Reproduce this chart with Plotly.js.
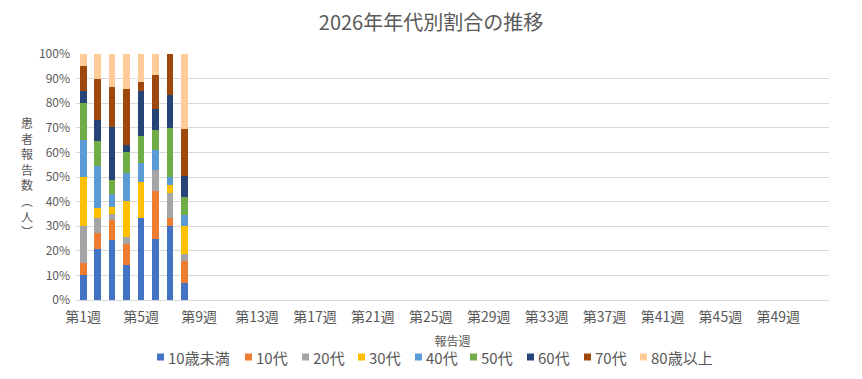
<!DOCTYPE html>
<html>
<head>
<meta charset="utf-8">
<script src="https://cdn.plot.ly/plotly-3.0.1.min.js"></script>
<style>html,body{margin:0;padding:0;background:#fff;}#chart{width:862px;height:379px;}</style>
</head>
<body>
<div id="chart"></div>
<script>
// categories: 第1週..第52週
const weeks = [];
for (let i = 1; i <= 52; i++) weeks.push('第' + i + '週');
const tickWeeks = ['第1週','第5週','第9週','第13週','第17週','第21週','第25週','第29週','第33週','第37週','第41週','第45週','第49週'];

const seriesNames = ['10歳未満','10代','20代','30代','40代','50代','60代','70代','80歳以上'];
// share (%) per week 1..8
const s10u  = [10.0, 20.8, 24.3, 14.3, 33.3, 25.0, 30.0, 7.1];
const s10   = [5.0, 6.3, 8.1, 8.6, 0, 19.4, 3.3, 8.9];
const s20   = [15.0, 6.3, 2.7, 2.9, 0, 8.3, 10.0, 2.7];
const s30   = [20.0, 4.2, 2.7, 14.3, 14.8, 0, 3.3, 11.4];
const s40   = [15.0, 16.7, 5.4, 11.4, 7.4, 8.3, 3.3, 4.6];
const s50   = [15.0, 10.4, 5.4, 8.6, 11.1, 8.3, 20.0, 7.2];
const s60   = [5.0, 8.3, 21.6, 2.9, 18.5, 8.3, 13.3, 8.6];
const s70   = [10.0, 16.7, 16.2, 22.8, 3.7, 13.9, 16.8, 19.1];
const s80   = [5.0, 10.3, 13.6, 14.2, 11.2, 8.5, 0, 30.4];
const seriesValues = [s10u, s10, s20, s30, s40, s50, s60, s70, s80];
const colors = ['#4472C4','#ED7D31','#A5A5A5','#FFC000','#5B9BD5','#70AD47','#264478','#9E480E','#FFCC99'];

const traces = seriesNames.map((n, i) => ({
  type: 'bar', name: n,
  x: weeks.slice(0, seriesValues[i].length),
  y: seriesValues[i],
  marker: {color: colors[i], line: {width: 0}},
  hoverinfo: 'x+y+name'
}));

const font = '"Noto Sans CJK JP", "Noto Sans", sans-serif';
const ytitle = ['患','者','報','告','数','︵','人','︶'].join('<br>');

// plot area geometry (px) for placing the legend
const W = 862, H = 379, ML = 76, MR = 33, MT = 54, MB = 79;
const PW = W - ML - MR, PH = H - MT - MB;
const px2x = p => (p - ML) / PW;
const py2y = p => (H - MB - p) / PH;
// legend square left edges (px)
const legendLeft = [157, 245, 302, 358, 415, 470, 527, 584, 640];
const legendY = 357;
const shapes = [], annotations = [];
seriesNames.forEach((n, i) => {
  const L = legendLeft[i];
  shapes.push({type: 'rect', xref: 'paper', yref: 'paper',
    x0: px2x(L), x1: px2x(L + 7), y0: py2y(legendY + 3.5), y1: py2y(legendY - 3.5),
    fillcolor: colors[i], line: {width: 0}});
  annotations.push({text: n, xref: 'paper', yref: 'paper', x: px2x(L + 9), y: py2y(legendY),
    xanchor: 'left', yanchor: 'middle', showarrow: false, font: {size: 15, color: '#595959'}});
});
annotations.push({
  text: ytitle, xref: 'paper', yref: 'paper', x: px2x(27), y: 0.5, xanchor: 'center', yanchor: 'middle',
  showarrow: false, font: {size: 12, color: '#595959'}, align: 'center'
});

const layout = {
  width: W, height: H,
  margin: {l: ML, r: MR, t: MT, b: MB},
  paper_bgcolor: '#fff', plot_bgcolor: '#fff',
  font: {family: font, color: '#595959', size: 12},
  title: {text: '2026年年代別割合の推移', font: {size: 20, color: '#595959', family: font}, x: 0.5, xanchor: 'center', y: 0.94, yanchor: 'middle'},
  barmode: 'stack',
  bargap: 0.55,
  showlegend: false,
  xaxis: {
    type: 'category', categoryorder: 'array', categoryarray: weeks,
    range: [-0.5, 51.5],
    tickmode: 'array', tickvals: tickWeeks, ticktext: tickWeeks,
    tickangle: 0, ticks: '', showgrid: false, automargin: false,
    showline: true, linecolor: '#D9D9D9', linewidth: 1,
    ticklabelstandoff: 4,
    tickfont: {size: 14, color: '#595959'},
    title: {text: '報告週', font: {size: 12, color: '#595959'}, standoff: 12},
    fixedrange: true
  },
  yaxis: {
    range: [0, 100], dtick: 10, ticksuffix: '%', automargin: false,
    showgrid: true, gridcolor: '#D9D9D9', gridwidth: 1,
    zeroline: false, showline: false, ticks: '',
    ticklabelstandoff: 5,
    tickfont: {size: 12, color: '#595959'},
    fixedrange: true
  },
  shapes: shapes,
  annotations: annotations
};

Plotly.newPlot('chart', traces, layout, {displayModeBar: false, staticPlot: true});
</script>
</body>
</html>
